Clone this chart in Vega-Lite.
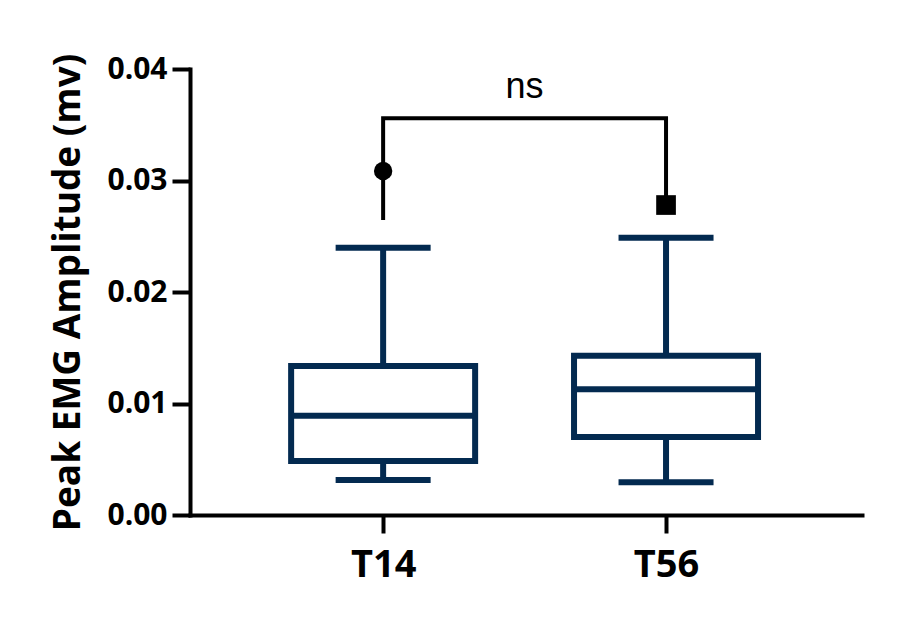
{
  "$schema": "https://vega.github.io/schema/vega-lite/v6.json",
  "width": 672,
  "height": 446,
  "autosize": {"type": "none"},
  "padding": {"left": 190, "top": 69, "right": 50, "bottom": 121},
  "background": "white",
  "config": {"view": {"stroke": null}},
  "datasets": {
    "boxes": [
      {"group": "T14", "index": 1, "lower": 0.00314, "q1": 0.00484, "median": 0.00891, "q3": 0.01336, "upper": 0.02397},
      {"group": "T56", "index": 2, "lower": 0.00293, "q1": 0.0070, "median": 0.01127, "q3": 0.01429, "upper": 0.02487}
    ],
    "outliers": [
      {"group": "T14", "index": 1, "value": 0.03085},
      {"group": "T56", "index": 2, "value": 0.0278}
    ],
    "bracket": [
      {"order": 1, "index": 1, "value": 0.02646},
      {"order": 2, "index": 1, "value": 0.03558},
      {"order": 3, "index": 2, "value": 0.03558},
      {"order": 4, "index": 2, "value": 0.0278}
    ],
    "annotation": [
      {"index": 1.5, "value": 0.0374, "label": "ns"}
    ]
  },
  "encoding": {
    "x": {
      "field": "index",
      "type": "quantitative",
      "scale": {"domain": [0.335, 2.675], "nice": false, "zero": false},
      "axis": {
        "title": null,
        "values": [1, 2],
        "labelExpr": "datum.value == 1 ? 'T14' : 'T56'",
        "grid": false,
        "domainColor": "black",
        "domainWidth": 4,
        "domainCap": "square",
        "tickColor": "black",
        "tickWidth": 4,
        "tickSize": 18,
        "labelFont": "Open Sans",
        "labelFontWeight": "bold",
        "labelFontSize": 38,
        "labelColor": "black",
        "labelPadding": 13
      }
    }
  },
  "layer": [
    {
      "data": {"name": "boxes"},
      "mark": {"type": "rule", "color": "#032a50", "strokeWidth": 6},
      "encoding": {
        "y": {
          "field": "lower",
          "type": "quantitative",
          "scale": {"domain": [0, 0.04], "nice": false},
          "axis": {
            "title": "Peak EMG Amplitude (mv)",
            "values": [0, 0.01, 0.02, 0.03, 0.04],
            "format": ".2f",
            "grid": false,
            "domainColor": "black",
            "domainWidth": 4,
            "domainCap": "square",
            "tickColor": "black",
            "tickWidth": 4,
            "tickSize": 18,
            "labelFont": "Open Sans",
            "labelFontWeight": "bold",
            "labelFontSize": 30,
            "labelColor": "black",
            "labelPadding": 5,
            "titleFont": "Open Sans",
            "titleFontWeight": "bold",
            "titleFontSize": 37,
            "titleColor": "black",
            "titlePadding": 19
          }
        },
        "y2": {"field": "upper"}
      }
    },
    {
      "data": {"name": "boxes"},
      "mark": {"type": "bar", "orient": "vertical", "size": 184, "fill": "white", "stroke": "#032a50", "strokeWidth": 6},
      "encoding": {
        "y": {"field": "q1", "type": "quantitative"},
        "y2": {"field": "q3"}
      }
    },
    {
      "data": {"name": "boxes"},
      "mark": {"type": "tick", "orient": "horizontal", "size": 184, "thickness": 6, "color": "#032a50", "opacity": 1},
      "encoding": {
        "y": {"field": "median", "type": "quantitative"}
      }
    },
    {
      "data": {"name": "boxes"},
      "mark": {"type": "tick", "orient": "horizontal", "size": 95, "thickness": 6, "color": "#032a50", "opacity": 1},
      "encoding": {
        "y": {"field": "lower", "type": "quantitative"}
      }
    },
    {
      "data": {"name": "boxes"},
      "mark": {"type": "tick", "orient": "horizontal", "size": 95, "thickness": 6, "color": "#032a50", "opacity": 1},
      "encoding": {
        "y": {"field": "upper", "type": "quantitative"}
      }
    },
    {
      "data": {"name": "bracket"},
      "mark": {"type": "line", "color": "black", "strokeWidth": 4, "strokeJoin": "miter", "strokeCap": "butt"},
      "encoding": {
        "y": {"field": "value", "type": "quantitative"},
        "order": {"field": "order", "type": "quantitative"}
      }
    },
    {
      "data": {"name": "outliers"},
      "mark": {"type": "point", "filled": true, "color": "black", "opacity": 1},
      "encoding": {
        "y": {"field": "value", "type": "quantitative"},
        "shape": {"field": "group", "type": "nominal", "scale": {"domain": ["T14", "T56"], "range": ["circle", "square"]}, "legend": null},
        "size": {"field": "group", "type": "nominal", "scale": {"domain": ["T14", "T56"], "range": [336, 388]}, "legend": null}
      }
    },
    {
      "data": {"name": "annotation"},
      "mark": {"type": "text", "font": "Liberation Sans", "fontSize": 36, "color": "black", "align": "center", "baseline": "alphabetic"},
      "encoding": {
        "y": {"field": "value", "type": "quantitative"},
        "text": {"field": "label"}
      }
    }
  ]
}
